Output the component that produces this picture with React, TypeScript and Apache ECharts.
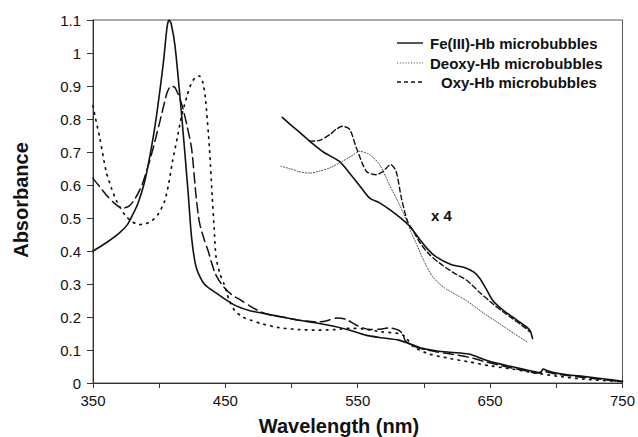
import React, { useEffect, useRef } from "react";
import * as echarts from "echarts";

// Wavelength (nm) / absorbance pairs
const feMain: [number, number][] = [
  [350, 0.40], [360, 0.425], [370, 0.455], [376, 0.48], [380, 0.51], [384, 0.545], [389, 0.61],
  [394, 0.71], [398, 0.81], [403, 0.965], [406, 1.08], [407.5, 1.1], [409, 1.09], [412, 1.02],
  [417, 0.81], [422, 0.57], [424.5, 0.44], [428, 0.35], [434, 0.30], [444, 0.27], [457, 0.236],
  [468, 0.22], [480, 0.21], [493, 0.20], [506, 0.19], [519, 0.182], [532, 0.172], [544, 0.16],
  [556, 0.145], [568, 0.137], [581, 0.13], [592, 0.115], [599, 0.105], [610, 0.097], [620, 0.093],
  [634, 0.088], [641, 0.078], [647, 0.069], [657, 0.058], [667, 0.049], [677, 0.04], [685, 0.033],
  [688, 0.03], [690, 0.042], [694, 0.036], [700, 0.03], [710, 0.024], [720, 0.02], [735, 0.013],
  [750, 0.005],
];
const deoxyMain: [number, number][] = [
  [350, 0.84], [352, 0.80], [355, 0.745], [360, 0.64], [364, 0.59], [368, 0.55], [374, 0.51],
  [379, 0.49], [385, 0.48], [390, 0.483], [394, 0.49], [399, 0.51], [404, 0.55], [407, 0.6],
  [410, 0.67], [414, 0.75], [417, 0.81], [421, 0.87], [424, 0.905], [427, 0.925], [430.5, 0.93],
  [433, 0.91], [435, 0.86], [438, 0.71], [440, 0.57], [441.5, 0.47], [443, 0.38], [446, 0.33],
  [449, 0.30], [453, 0.25], [457, 0.22], [463, 0.2], [469.5, 0.19], [477, 0.18], [490, 0.168],
  [505, 0.162], [520, 0.16], [533, 0.162], [544, 0.166], [556, 0.163], [568, 0.155], [581, 0.15],
  [586, 0.14], [592, 0.11], [604, 0.088], [620, 0.074], [634, 0.064], [650, 0.052], [667, 0.042],
  [685, 0.03], [700, 0.021], [720, 0.012], [750, 0.004],
];
const oxyMain: [number, number][] = [
  [350, 0.62], [355, 0.595], [360, 0.57], [366, 0.545], [372, 0.53], [377, 0.535], [382, 0.56],
  [387, 0.60], [394, 0.69], [401.6, 0.81], [406, 0.88], [409, 0.9], [412, 0.895], [417, 0.845],
  [421, 0.78], [424.5, 0.71], [428, 0.56], [430.5, 0.485], [434, 0.435], [437, 0.40], [442, 0.335],
  [447, 0.30], [454, 0.27], [462, 0.25], [470, 0.23], [477, 0.215], [485, 0.205], [493, 0.2],
  [506, 0.19], [519, 0.185], [526, 0.188], [534, 0.197], [541, 0.193], [549, 0.175], [559, 0.162],
  [566, 0.163], [574, 0.167], [581, 0.16], [584, 0.148], [586, 0.128], [592, 0.112], [600, 0.102],
  [610, 0.094], [620, 0.088], [634, 0.078], [647, 0.064], [657, 0.054], [667, 0.045], [677, 0.037],
  [685, 0.03], [690, 0.035], [700, 0.027], [720, 0.017], [750, 0.004],
];
// "x 4" expanded visible-region spectra
const feX4: [number, number][] = [
  [493, 0.805], [500, 0.78], [506, 0.76], [513.6, 0.733], [524, 0.70], [536, 0.672], [544, 0.635],
  [551, 0.60], [559, 0.56], [566.5, 0.546], [576, 0.52], [586.7, 0.485], [591.5, 0.464], [597, 0.434],
  [603, 0.405], [609, 0.383], [620, 0.36], [632, 0.348], [638, 0.335], [642, 0.318], [647, 0.285],
  [652, 0.25], [660, 0.22], [667, 0.20], [674, 0.18], [680, 0.16], [682, 0.135],
];
const oxyX4: [number, number][] = [
  [513.6, 0.733], [521, 0.735], [529, 0.753], [534, 0.77], [538.5, 0.778], [544, 0.768], [549, 0.712],
  [556.6, 0.641], [564, 0.631], [569, 0.641], [575, 0.662], [579, 0.641], [583, 0.56], [587.6, 0.49],
  [591.5, 0.464], [597, 0.425], [604, 0.39], [611.6, 0.364], [622, 0.335], [632, 0.312], [642, 0.275],
  [652, 0.24], [660, 0.215], [667, 0.195], [674, 0.175], [680, 0.155],
];
const deoxyX4: [number, number][] = [
  [492, 0.657], [500, 0.648], [506, 0.64], [513.6, 0.636], [521, 0.642], [529, 0.652], [538.5, 0.672],
  [545, 0.687], [551.5, 0.702], [559, 0.692], [566.5, 0.662], [574, 0.60], [581.6, 0.54], [587.6, 0.485],
  [591, 0.45], [594, 0.425], [600, 0.37], [606.6, 0.322], [615, 0.29], [624, 0.268], [632, 0.25],
  [645, 0.212], [657, 0.18], [668, 0.15], [678, 0.125],
];

const legendNames = ["Fe(III)-Hb microbubbles", "Deoxy-Hb microbubbles", "Oxy-Hb microbubbles"];
const xTitle = "Wavelength (nm)";
const yTitle = "Absorbance";
const scaleNote = "x 4";

const FONT = "Liberation Sans, Arial, sans-serif";
const INK = "#111";

function lineSeries(data: [number, number][], type: any, width: number, color = INK) {
  return {
    type: "line",
    data,
    showSymbol: false,
    symbol: "none",
    smooth: 0.25,
    lineStyle: { color, width, type, cap: "round" },
    silent: true,
  };
}

export default function App() {
  const ref = useRef<HTMLDivElement>(null);
  useEffect(() => {
    document.body.style.margin = "0";
    const chart = echarts.init(ref.current!, null, { renderer: "svg" });
    chart.setOption({
      animation: false,
      backgroundColor: "#fff",
      grid: {
        left: 93, right: 15, top: 20, bottom: 54,
        show: true, borderColor: "#555", borderWidth: 1,
      },
      xAxis: {
        type: "value", min: 350, max: 750, interval: 50,
        axisLine: { lineStyle: { color: "#333", width: 1 } },
        axisTick: { show: true, length: 5, lineStyle: { color: "#333" } },
        splitLine: { show: false },
        axisLabel: {
          margin: 10, color: INK, fontSize: 15, fontFamily: FONT,
          formatter: (v: number) => (v % 100 === 50 ? String(v) : ""),
        },
      },
      yAxis: {
        type: "value", min: 0, max: 1.1, interval: 0.1,
        axisLine: { show: true, lineStyle: { color: "#333", width: 1 } },
        axisTick: { show: true, length: 6, lineStyle: { color: "#333" } },
        splitLine: { show: false },
        axisLabel: { margin: 12, color: INK, fontSize: 15, fontFamily: FONT },
      },
      series: [
        lineSeries(feMain, "solid", 1.6),
        lineSeries(deoxyMain, [1.5, 5.5], 1.7),
        lineSeries(oxyMain, [10, 5], 1.5),
        lineSeries(feX4, "solid", 1.6),
        lineSeries(deoxyX4, [1, 1.8], 1, "#444"),
        lineSeries(oxyX4, [5, 3], 1.4),
      ],
      graphic: [
        { type: "line", shape: { x1: 397, y1: 43, x2: 423, y2: 43 }, style: { stroke: INK, lineWidth: 1.4 } },
        { type: "line", shape: { x1: 397, y1: 63, x2: 423, y2: 63 }, style: { stroke: "#444", lineWidth: 1, lineDash: [1, 1.8] } },
        { type: "line", shape: { x1: 397, y1: 82, x2: 423, y2: 82 }, style: { stroke: INK, lineWidth: 1.3, lineDash: [4, 3] } },
        { type: "text", x: 430, y: 43, style: { text: legendNames[0], font: `bold 15px ${FONT}`, fill: INK, verticalAlign: "middle" } },
        { type: "text", x: 430, y: 63, style: { text: legendNames[1], font: `bold 15px ${FONT}`, fill: INK, verticalAlign: "middle" } },
        { type: "text", x: 441, y: 82, style: { text: legendNames[2], font: `bold 15px ${FONT}`, fill: INK, verticalAlign: "middle" } },
        { type: "text", x: 431, y: 215, style: { text: scaleNote, font: `bold 15px ${FONT}`, fill: INK, verticalAlign: "middle" } },
        { type: "text", x: 339, y: 426, style: { text: xTitle, font: `bold 20px ${FONT}`, fill: INK, align: "center", verticalAlign: "middle" } },
        { type: "text", x: 21, y: 200, rotation: Math.PI / 2, style: { text: yTitle, font: `bold 20px ${FONT}`, fill: INK, align: "center", verticalAlign: "middle" } },
      ],
    });
    return () => chart.dispose();
  }, []);
  return <div ref={ref} style={{ position: "absolute", left: 0, top: 0, width: 638, height: 437 }} />;
}
